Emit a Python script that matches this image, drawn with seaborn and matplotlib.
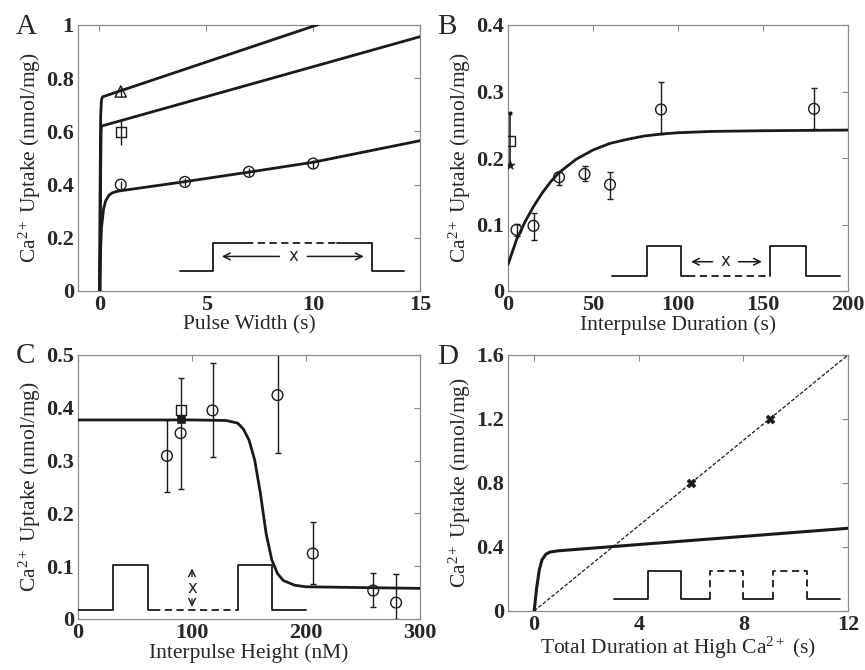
import numpy as np
import pandas as pd
import matplotlib
matplotlib.use("Agg")
import matplotlib.pyplot as plt
import seaborn as sns

# ---------------- data ----------------
# Panel A: pulse width
A_circ_x = [1, 4, 7, 10]
A_circ_y = [0.400, 0.410, 0.448, 0.479]
A_circ_err = [0.015, 0.015, 0.015, 0.015]
A_sq_x = [1]
A_sq_y = [0.598]
A_sq_err = [0.050]
A_tri_x = [1]
A_tri_y = [0.750]
A_tri_err = [0.020]
A_top_x = [0.0, 0.03, 0.06, 0.10, 0.15, 15.0]
A_top_y = [0.0, 0.35, 0.66, 0.72, 0.730, 1.130]
A_mid_x = [0.04, 0.06, 0.08, 0.10, 15.0]
A_mid_y = [0.0, 0.45, 0.60, 0.620, 0.956]
A_bot_x = [0.0, 0.05, 0.10, 0.20, 0.30, 0.45, 0.60, 0.80, 1.0, 4.0, 7.0, 10.0, 15.0]
A_bot_y = [0.0, 0.14, 0.24, 0.31, 0.340, 0.360, 0.369, 0.374, 0.377, 0.411, 0.447, 0.484, 0.565]

# Panel B: interpulse duration
B_circ_x = [5, 15, 30, 45, 60, 90, 180]
B_circ_y = [0.092, 0.098, 0.171, 0.176, 0.160, 0.273, 0.274]
B_circ_lo = [0.083, 0.077, 0.160, 0.165, 0.138, 0.236, 0.244]
B_circ_hi = [0.101, 0.118, 0.179, 0.188, 0.179, 0.314, 0.306]
B_sq_x = [1]
B_sq_y = [0.226]
B_sq_hi = [0.268]
B_star_x = [1]
B_star_y = [0.190]
B_fit_x = [0, 5, 10, 15, 20, 25, 30, 40, 50, 60, 70, 80, 90, 100, 120, 150, 200]
B_fit_y = [0.040, 0.077, 0.104, 0.127, 0.147, 0.164, 0.178, 0.198, 0.212, 0.222,
           0.228, 0.233, 0.236, 0.238, 0.240, 0.241, 0.242]

# Panel C: interpulse height
C_circ_x = [78, 90, 118, 175, 206, 259, 279]
C_circ_y = [0.309, 0.352, 0.395, 0.424, 0.124, 0.054, 0.031]
C_circ_lo = [0.240, 0.246, 0.306, 0.315, 0.066, 0.022, 0.000]
C_circ_hi = [0.377, 0.456, 0.484, 0.520, 0.183, 0.088, 0.085]
C_sq_x = [90]
C_sq_y = [0.396]
C_star_x = [90]
C_star_y = [0.379]
C_fit_x = [0, 100, 130, 140, 145, 150, 155, 160, 165, 170, 175, 180, 190, 200, 300]
C_fit_y = [0.377, 0.377, 0.376, 0.371, 0.360, 0.339, 0.301, 0.238, 0.162, 0.112,
           0.086, 0.073, 0.064, 0.061, 0.058]

# Panel D: total duration at high Ca
D_fit_x = [0.0, 0.1, 0.2, 0.3, 0.45, 0.6, 0.9, 12.0]
D_fit_y = [0.0, 0.15, 0.26, 0.32, 0.355, 0.368, 0.376, 0.517]
D_line_x = [0, 12]
D_line_y = [0.0, 1.6]
D_x_x = [6, 9]
D_x_y = [0.8, 1.2]

# tick labels
A_xticks = [0, 5, 10, 15]
A_yticks = [0, 0.2, 0.4, 0.6, 0.8, 1]
A_ylabels = ["0", "0.2", "0.4", "0.6", "0.8", "1"]
B_xticks = [0, 50, 100, 150, 200]
B_yticks = [0, 0.1, 0.2, 0.3, 0.4]
B_ylabels = ["0", "0.1", "0.2", "0.3", "0.4"]
C_xticks = [0, 100, 200, 300]
C_yticks = [0, 0.1, 0.2, 0.3, 0.4, 0.5]
C_ylabels = ["0", "0.1", "0.2", "0.3", "0.4", "0.5"]
D_xticks = [0, 4, 8, 12]
D_yticks = [0, 0.4, 0.8, 1.2, 1.6]
D_ylabels = ["0", "0.4", "0.8", "1.2", "1.6"]

# schematic pulse insets (data coordinates of each panel)
A_ins_solid1 = ([3.75, 5.3, 5.3, 6.85], [0.075, 0.075, 0.182, 0.182])
A_ins_dash = ([6.85, 11.1], [0.182, 0.182])
A_ins_solid2 = ([11.1, 12.75, 12.75, 14.25], [0.182, 0.182, 0.075, 0.075])
B_ins_solid1 = ([61, 82, 82, 102, 102, 106], [0.022, 0.022, 0.067, 0.067, 0.022, 0.022])
B_ins_dash = ([106, 154], [0.022, 0.022])
B_ins_solid2 = ([154, 154, 175, 175, 195], [0.022, 0.067, 0.067, 0.022, 0.022])
C_ins_solid1 = ([0, 31, 31, 61.5, 61.5, 66], [0.017, 0.017, 0.102, 0.102, 0.017, 0.017])
C_ins_dash = ([66, 140], [0.017, 0.017])
C_ins_solid2 = ([140, 140, 170.5, 170.5, 200], [0.017, 0.102, 0.102, 0.017, 0.017])
D_ins_solid1 = ([3.05, 4.34, 4.34, 5.61, 5.61, 6.73], [0.073, 0.073, 0.25, 0.25, 0.073, 0.073])
D_ins_dash1 = ([6.73, 6.73, 8.0, 8.0], [0.073, 0.25, 0.25, 0.073])
D_ins_solid2 = ([8.0, 9.14], [0.073, 0.073])
D_ins_dash2 = ([9.14, 9.14, 10.44, 10.44], [0.073, 0.25, 0.25, 0.073])
D_ins_solid3 = ([10.44, 11.7], [0.073, 0.073])

# ---------------- style ----------------
sns.set_theme(style="white")
plt.rcParams["font.family"] = ["Liberation Serif", "DejaVu Serif"]
plt.rcParams["mathtext.fontset"] = "custom"
plt.rcParams["mathtext.rm"] = "Liberation Serif"
plt.rcParams["mathtext.it"] = "Liberation Serif:italic"
plt.rcParams["mathtext.bf"] = "Liberation Serif:bold"

TICK_FS = 16
LAB_FS = 15.5
FRAME = "#8a8a8a"

fig = plt.figure(figsize=(8.65, 6.7), dpi=100)
axA = fig.add_axes([78 / 865, 1 - 291 / 670, 342 / 865, 266 / 670])
axB = fig.add_axes([508 / 865, 1 - 291 / 670, 340 / 865, 266 / 670])
axC = fig.add_axes([78 / 865, 1 - 619 / 670, 342 / 865, 264 / 670])
axD = fig.add_axes([508 / 865, 1 - 611 / 670, 340 / 865, 256 / 670])

YLAB = r"Ca$^{2+}$ Uptake (nmol/mg)"


def line(ax, x, y, lw=2.0, ls="-", color="k", zorder=3):
    sns.lineplot(x=x, y=y, ax=ax, color=color, lw=lw, linestyle=ls,
                 sort=False, estimator=None, legend=False, zorder=zorder)


def style(ax, xlim, ylim, xt, yt, ylabs, xlabel):
    ax.set_xlim(*xlim)
    ax.set_ylim(*ylim)
    ax.set_xticks(xt)
    ax.set_xticklabels([str(v) for v in xt], fontsize=TICK_FS, fontweight="bold")
    ax.set_yticks(yt)
    ax.set_yticklabels(ylabs, fontsize=TICK_FS, fontweight="bold")
    ax.tick_params(direction="in", length=4, width=0.8, color=FRAME,
                   top=True, right=True, pad=3)
    for sp in ax.spines.values():
        sp.set_color(FRAME)
        sp.set_linewidth(0.9)
    ax.set_xlabel(xlabel, fontsize=LAB_FS, labelpad=0)
    ax.set_ylabel(YLAB, fontsize=LAB_FS, labelpad=2)
    ax.grid(False)


def open_markers(ax, x, y, marker, size=60):
    sns.scatterplot(x=x, y=y, ax=ax, marker=marker, s=size, facecolors="none",
                    edgecolor="k", linewidth=1.0, legend=False, zorder=4)


# ---------------- Panel A ----------------
line(axA, A_top_x, A_top_y)
line(axA, A_mid_x, A_mid_y)
line(axA, A_bot_x, A_bot_y)
axA.errorbar(A_circ_x, A_circ_y, yerr=A_circ_err, fmt="none", ecolor="k", elinewidth=1, capsize=0)
axA.errorbar(A_sq_x, A_sq_y, yerr=A_sq_err, fmt="none", ecolor="k", elinewidth=1, capsize=0)
axA.errorbar(A_tri_x, A_tri_y, yerr=A_tri_err, fmt="none", ecolor="k", elinewidth=1, capsize=0)
open_markers(axA, A_circ_x, A_circ_y, "o")
open_markers(axA, A_sq_x, A_sq_y, "s", 50)
open_markers(axA, A_tri_x, A_tri_y, "^", 65)
line(axA, *A_ins_solid1, lw=1.3)
line(axA, *A_ins_dash, lw=1.3, ls=(0, (4, 2.5)))
line(axA, *A_ins_solid2, lw=1.3)
axA.annotate("", xy=(5.6, 0.130), xytext=(8.55, 0.130),
             arrowprops=dict(arrowstyle="->", lw=1.1, color="k"))
axA.annotate("", xy=(12.5, 0.130), xytext=(9.6, 0.130),
             arrowprops=dict(arrowstyle="->", lw=1.1, color="k"))
axA.text(9.08, 0.130, "x", ha="center", va="center", fontsize=12, family="DejaVu Sans")
style(axA, (-1, 15), (0, 1), A_xticks, A_yticks, A_ylabels, "Pulse Width (s)")

# ---------------- Panel B ----------------
line(axB, B_fit_x, B_fit_y)
axB.errorbar(B_circ_x, B_circ_y,
             yerr=[np.subtract(B_circ_y, B_circ_lo), np.subtract(B_circ_hi, B_circ_y)],
             fmt="none", ecolor="k", elinewidth=1, capsize=2, capthick=1)
axB.errorbar(B_sq_x, B_sq_y, yerr=[[B_sq_y[0] - B_star_y[0]], [B_sq_hi[0] - B_sq_y[0]]],
             fmt="none", ecolor="k", elinewidth=1.2, capsize=0)
axB.plot(B_sq_x, B_sq_hi, "k.", ms=4, zorder=4)
open_markers(axB, B_circ_x, B_circ_y, "o")
open_markers(axB, B_sq_x, B_sq_y, "s", 50)
sns.scatterplot(x=B_star_x, y=B_star_y, ax=axB, marker="*", s=45, color="k",
                edgecolor="k", legend=False, zorder=4)
line(axB, *B_ins_solid1, lw=1.3)
line(axB, *B_ins_dash, lw=1.3, ls=(0, (4, 2.5)))
line(axB, *B_ins_solid2, lw=1.3)
axB.annotate("", xy=(106, 0.044), xytext=(122, 0.044),
             arrowprops=dict(arrowstyle="->", lw=1.1, color="k"))
axB.annotate("", xy=(151, 0.044), xytext=(134, 0.044),
             arrowprops=dict(arrowstyle="->", lw=1.1, color="k"))
axB.text(128, 0.045, "x", ha="center", va="center", fontsize=12, family="DejaVu Sans")
style(axB, (0, 200), (0, 0.4), B_xticks, B_yticks, B_ylabels, "Interpulse Duration (s)")

# ---------------- Panel C ----------------
line(axC, C_fit_x, C_fit_y)
axC.errorbar(C_circ_x, C_circ_y,
             yerr=[np.subtract(C_circ_y, C_circ_lo), np.subtract(C_circ_hi, C_circ_y)],
             fmt="none", ecolor="k", elinewidth=1, capsize=2, capthick=1)
open_markers(axC, C_circ_x, C_circ_y, "o")
open_markers(axC, C_sq_x, C_sq_y, "s", 50)
sns.scatterplot(x=C_star_x, y=C_star_y, ax=axC, marker="s", s=30, color="k",
                edgecolor="k", legend=False, zorder=4)
line(axC, *C_ins_solid1, lw=1.3)
line(axC, *C_ins_dash, lw=1.3, ls=(0, (4, 2.5)))
line(axC, *C_ins_solid2, lw=1.3)
axC.annotate("", xy=(100, 0.101), xytext=(100, 0.075),
             arrowprops=dict(arrowstyle="->", lw=1.0, color="k"))
axC.annotate("", xy=(100, 0.018), xytext=(100, 0.043),
             arrowprops=dict(arrowstyle="->", lw=1.0, color="k"))
axC.text(100, 0.059, "x", ha="center", va="center", fontsize=12, family="DejaVu Sans")
style(axC, (0, 300), (0, 0.5), C_xticks, C_yticks, C_ylabels, "Interpulse Height (nM)")

# ---------------- Panel D ----------------
line(axD, D_line_x, D_line_y, lw=0.9, ls=(0, (3, 1.5)))
line(axD, D_fit_x, D_fit_y, lw=2.2)
sns.scatterplot(x=D_x_x, y=D_x_y, ax=axD, marker="X", s=40, color="k",
                edgecolor="k", legend=False, zorder=4)
line(axD, *D_ins_solid1, lw=1.3)
line(axD, *D_ins_dash1, lw=1.3, ls=(0, (4, 2.5)))
line(axD, *D_ins_solid2, lw=1.3)
line(axD, *D_ins_dash2, lw=1.3, ls=(0, (4, 2.5)))
line(axD, *D_ins_solid3, lw=1.3)
style(axD, (-1, 12), (0, 1.6), D_xticks, D_yticks, D_ylabels,
      r"Total Duration at High Ca$^{2+}$ (s)")

# panel letters
for lab, (x, y) in {"A": (16, 34), "B": (437, 34), "C": (16, 363), "D": (437, 364)}.items():
    fig.text(x / 865, 1 - y / 670, lab, fontsize=21, va="baseline", ha="left")

fig.savefig("out.png", dpi=100)
